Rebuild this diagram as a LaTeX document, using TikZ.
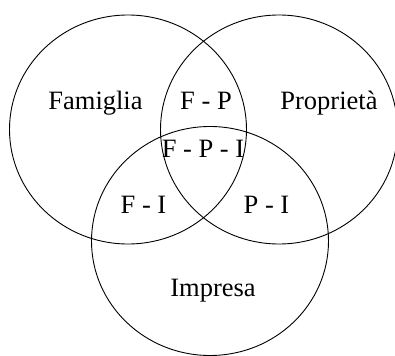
\documentclass[tikz,border=0pt]{standalone}
\usepackage{fontspec}
\setmainfont{Liberation Serif}
\usetikzlibrary{shapes.geometric}
\begin{document}
\begin{tikzpicture}[x=1bp,y=1bp,
  setc/.style={ellipse, draw=black, line width=0.9bp, minimum width=237bp, minimum height=229bp, inner sep=0pt},
  lbl/.style={anchor=base, inner sep=0pt, font=\fontsize{26.5bp}{30bp}\selectfont}]
\useasboundingbox (0,0) rectangle (395,356);
\node[setc] (fam) at (128,226.5) {};
\node[setc] (pro) at (279,226.5) {};
\node[setc] (imp) at (210,115) {};
\node[lbl] (tF) at (95.5,247) {Famiglia};
\node[lbl] (tFP) at (206,247) {F - P};
\node[lbl] (tP) at (329,247) {Proprietà};
\node[lbl] (tFPI) at (203,199) {F - P - I};
\node[lbl] (tFI) at (143.5,143) {F - I};
\node[lbl] (tPI) at (266.5,143) {P - I};
\node[lbl] (tI) at (213,60) {Impresa};
\end{tikzpicture}
\end{document}
